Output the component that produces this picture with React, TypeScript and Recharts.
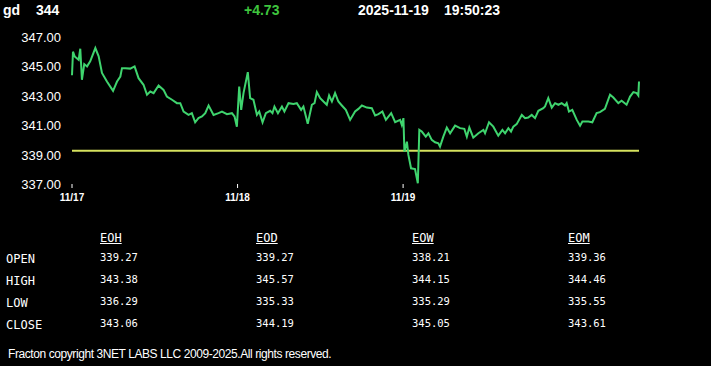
import React from "react";
import { LineChart, Line, XAxis, YAxis, ReferenceLine } from "recharts";

const symbol = "gd";
const lastPrice = "344";
const change = "+4.73";
const dateText = "2025-11-19";
const timeText = "19:50:23";

const dayLabels = ["11/17", "11/18", "11/19"];
const dayTicks = [0, 1, 2];
const priceTicks = [337, 339, 341, 343, 345, 347];
const referenceOpen = 339.27;

// time in trading days since 11/17 open
const times = [
  0, 0.006, 0.016, 0.04, 0.05, 0.06, 0.074, 0.091, 0.11, 0.141, 0.161, 0.181, 0.211, 0.248, 0.272, 0.292,
  0.302, 0.322, 0.352, 0.378, 0.402, 0.432, 0.453, 0.473, 0.493, 0.523, 0.553, 0.573, 0.604, 0.634, 0.654,
  0.674, 0.704, 0.724, 0.744, 0.764, 0.785, 0.805, 0.825, 0.855, 0.885, 0.906, 0.936, 0.966, 0.982, 0.996,
  1.01, 1.022, 1.036, 1.062, 1.076, 1.096, 1.117, 1.131, 1.151, 1.171, 1.197, 1.211, 1.223, 1.244, 1.268,
  1.283, 1.308, 1.338, 1.358, 1.384, 1.398, 1.424, 1.449, 1.465, 1.479, 1.499, 1.519, 1.539, 1.553, 1.57,
  1.589, 1.609, 1.63, 1.654, 1.68, 1.71, 1.73, 1.751, 1.781, 1.811, 1.831, 1.851, 1.875, 1.896, 1.928,
  1.952, 1.982, 1.992, 2.002, 2.008, 2.023, 2.032, 2.048, 2.072, 2.089, 2.098, 2.113, 2.137, 2.153, 2.173,
  2.193, 2.213, 2.223, 2.243, 2.264, 2.284, 2.314, 2.344, 2.37, 2.385, 2.4, 2.424, 2.455, 2.485, 2.495,
  2.519, 2.545, 2.575, 2.6, 2.616, 2.636, 2.652, 2.666, 2.686, 2.717, 2.737, 2.756, 2.777, 2.797, 2.817,
  2.847, 2.857, 2.877, 2.898, 2.918, 2.938, 2.958, 2.978, 2.988, 3.002, 3.022, 3.049, 3.069, 3.083, 3.119,
  3.143, 3.169, 3.189, 3.219, 3.25, 3.27, 3.3, 3.32, 3.35, 3.371, 3.391, 3.411, 3.421, 3.425,
];

const prices = [
  344.4, 346.0, 345.68, 345.45, 346.2, 344.09, 345.16, 345.0, 345.34, 346.25, 345.68, 344.55, 343.97, 343.34, 343.97, 344.31,
  344.88, 344.88, 344.85, 345.0, 344.2, 343.75, 343.07, 343.29, 343.18, 343.7, 343.4, 342.95, 342.73, 342.5, 342.5,
  341.93, 341.7, 341.82, 341.2, 341.48, 341.59, 341.82, 342.34, 341.7, 341.82, 341.93, 341.75, 341.82, 341.59, 340.9,
  343.63, 342.04, 343.18, 344.61, 342.84, 342.73, 341.7, 341.93, 341.2, 341.82, 341.98, 341.82, 342.27, 341.82, 342.27,
  341.93, 342.5, 342.45, 342.5, 342.04, 342.27, 341.1, 342.39, 342.5, 343.25, 342.84, 342.61, 342.39, 343.02, 342.61,
  343.18, 342.61, 342.34, 342.04, 341.36, 341.93, 342.11, 342.34, 342.2, 342.16, 341.66, 341.75, 341.93, 341.36, 341.82,
  341.2, 341.36, 341.02, 341.48, 339.2, 339.88, 338.98, 338.07, 338.02, 337.05, 340.68, 340.57, 340.22, 340.45, 340.0,
  339.84, 339.77, 339.54, 340.22, 340.84, 340.45, 340.97, 340.8, 340.75, 340.22, 340.84, 340.15, 340.45, 340.68, 340.45,
  341.2, 340.9, 340.29, 340.68, 340.45, 340.8, 340.57, 340.9, 341.07, 341.7, 341.48, 341.52, 341.7, 341.48, 341.98,
  342.16, 342.27, 342.84, 342.2, 342.5, 342.39, 342.5, 342.34, 342.5, 341.93, 342.04, 341.36, 340.97, 341.25, 341.25,
  341.2, 341.82, 341.89, 342.11, 343.07, 342.88, 342.5, 342.66, 342.39, 342.95, 343.25, 343.18, 343.02, 343.97,
];

const periods = ["EOH", "EOD", "EOW", "EOM"];
const rowLabels = ["OPEN", "HIGH", "LOW", "CLOSE"];
const openValues = ["339.27", "339.27", "338.21", "339.36"];
const highValues = ["343.38", "345.57", "344.15", "344.46"];
const lowValues = ["336.29", "335.33", "335.29", "335.55"];
const closeValues = ["343.06", "344.19", "345.05", "343.61"];
const copyright = "Fracton copyright 3NET LABS LLC 2009-2025.All rights reserved.";

const data = times.map((t, i) => ({ t, price: prices[i] }));
const rows = [openValues, highValues, lowValues, closeValues];

const SANS = "'Liberation Sans', Arial, sans-serif";
const MONO = "'DejaVu Sans Mono', monospace";

const YTick = (props: any) => {
  const { y, payload } = props;
  return (
    <text x={61} y={y} dy={5} textAnchor="end" fill="#ffffff" fontSize={13} fontFamily={SANS}>
      {Number(payload.value).toFixed(2)}
    </text>
  );
};

const XTick = (props: any) => {
  const { x, y, payload } = props;
  return (
    <text x={x} y={y} dy={11} textAnchor="middle" fill="#ffffff" fontSize={10} fontWeight="bold" fontFamily={SANS}>
      {dayLabels[dayTicks.indexOf(payload.value)]}
    </text>
  );
};

const colX = [100, 256, 412, 568];
const rowY = [252, 274, 296, 318];

export default function App() {
  const head: React.CSSProperties = {
    position: "absolute",
    top: 1,
    fontFamily: SANS,
    fontWeight: "bold",
    fontSize: 14,
    color: "#ffffff",
    whiteSpace: "pre",
    lineHeight: "18px",
  };
  const mono: React.CSSProperties = {
    position: "absolute",
    fontFamily: MONO,
    fontSize: 10.5,
    color: "#ffffff",
    lineHeight: "13px",
    whiteSpace: "pre",
  };
  const monoBig: React.CSSProperties = { ...mono, fontSize: 12, lineHeight: "14px" };
  return (
    <div style={{ position: "absolute", left: 0, top: 0, width: 711, height: 366, background: "#000000", overflow: "hidden" }}>
      <span style={{ ...head, left: 3 }}>{symbol}</span>
      <span style={{ ...head, left: 36 }}>{lastPrice}</span>
      <span style={{ ...head, left: 244, color: "#3ec43e" }}>{change}</span>
      <span style={{ ...head, left: 358 }}>{dateText}</span>
      <span style={{ ...head, left: 444 }}>{timeText}</span>

      <div style={{ position: "absolute", left: 0, top: 0 }}>
        <LineChart width={711} height={214} data={data} margin={{ top: 37, right: 72, bottom: 0, left: 0 }}>
          <YAxis
            type="number"
            domain={[337, 347]}
            ticks={priceTicks}
            width={72}
            axisLine={false}
            tickLine={false}
            tick={<YTick />}
            interval={0}
          />
          <XAxis
            dataKey="t"
            type="number"
            domain={[0, 3.425]}
            ticks={dayTicks}
            axisLine={false}
            tickLine={{ stroke: "#ffffff", strokeWidth: 1 }}
            tickSize={4}
            tickMargin={2}
            height={30}
            tick={<XTick />}
            interval={0}
          />
          <ReferenceLine y={referenceOpen} stroke="#d6e25e" strokeWidth={2} ifOverflow="extendDomain" />
          <Line
            type="linear"
            dataKey="price"
            stroke="#3fd46e"
            strokeWidth={2}
            dot={false}
            isAnimationActive={false}
          />
        </LineChart>
      </div>

      {periods.map((p, i) => (
        <span key={p} style={{ ...monoBig, left: colX[i], top: 231, textDecoration: "underline" }}>
          {p}
        </span>
      ))}
      {rowLabels.map((r, j) => (
        <span key={r} style={{ ...monoBig, left: 6, top: rowY[j] }}>
          {r}
        </span>
      ))}
      {rows.map((vals, j) =>
        vals.map((v, i) => (
          <span key={j + "-" + i} style={{ ...mono, left: colX[i], top: rowY[j] - 1 }}>
            {v}
          </span>
        ))
      )}
      <span
        style={{
          position: "absolute",
          left: 8,
          top: 347,
          fontFamily: SANS,
          fontSize: 12,
          letterSpacing: -0.42,
          color: "#ffffff",
          whiteSpace: "pre",
          lineHeight: "15px",
        }}
      >
        {copyright}
      </span>
    </div>
  );
}
